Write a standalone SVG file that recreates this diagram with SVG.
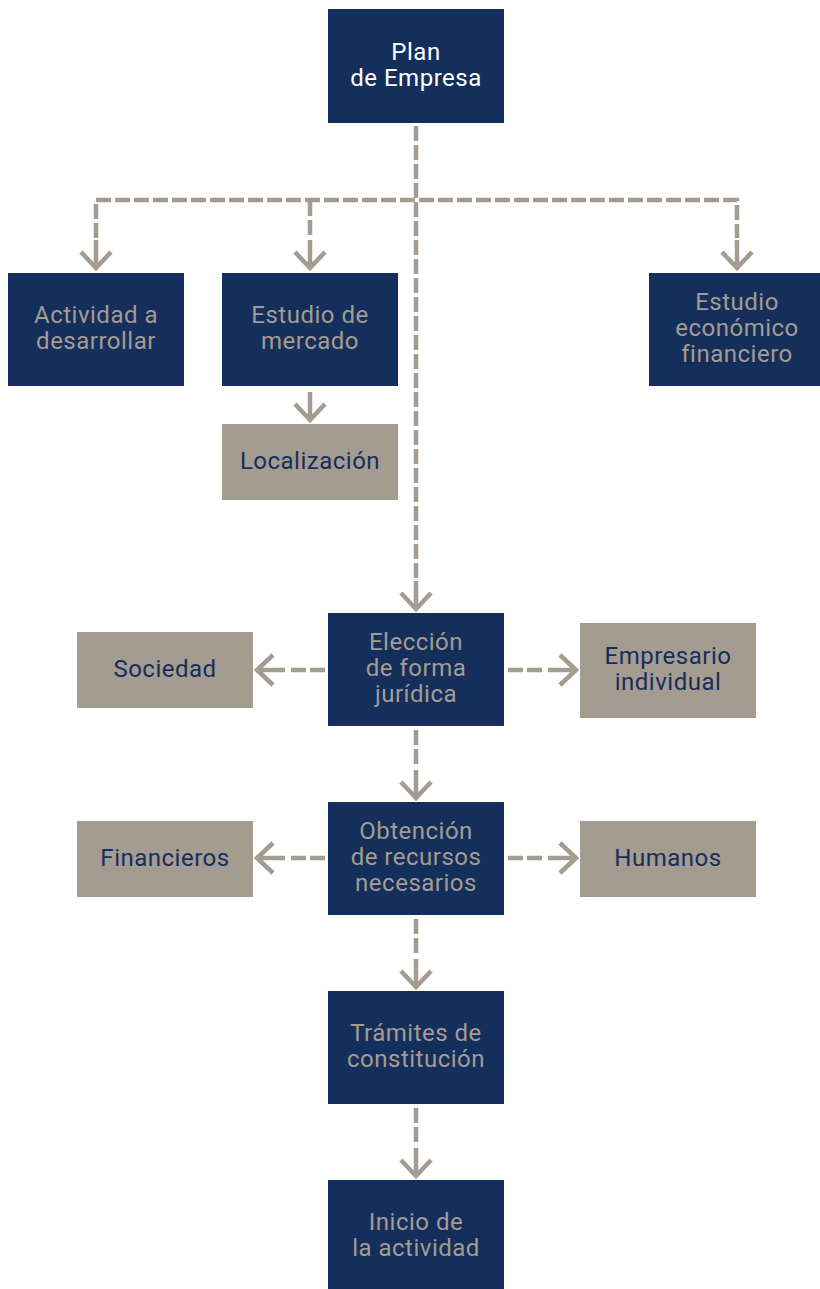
<svg xmlns="http://www.w3.org/2000/svg" xmlns:xlink="http://www.w3.org/1999/xlink" width="820" height="1289" viewBox="0 0 820 1289">
<style>
.navy{fill:#152f5d}
.tan{fill:#a49b91}
text{font-family:Roboto,"Liberation Sans",sans-serif;font-size:24px;letter-spacing:0.5px;text-anchor:middle}
.tl{fill:#a49b91}
.tw{fill:#ffffff}
.tn{fill:#152f5d}
.dash{fill:none;stroke:#a49b91;stroke-width:4.5;stroke-dasharray:15 4}
.ah{fill:none;stroke:#a49b91;stroke-width:4.5;stroke-linejoin:miter}
</style>
<defs>
<g id="arr"><path class="ah" d="M0,-31 V-3 M-15,-19 L0,-3 L15,-19"/></g>
</defs>
<rect width="820" height="1289" fill="#ffffff"/>
<g id="connectors">
<path class="dash" d="M416,126 V579"/>
<use xlink:href="#arr" transform="translate(416,612)"/>
<path class="dash" d="M96,238 V200 H737 V238"/>
<path class="dash" d="M310,201 V238"/>
<use xlink:href="#arr" transform="translate(96,271)"/>
<use xlink:href="#arr" transform="translate(310,271)"/>
<use xlink:href="#arr" transform="translate(737,271)"/>
<use xlink:href="#arr" transform="translate(310,423)"/>
<path class="dash" d="M325,670 H288"/>
<use xlink:href="#arr" transform="translate(254,670) rotate(90)"/>
<path class="dash" d="M508,670 H546"/>
<use xlink:href="#arr" transform="translate(579,670) rotate(-90)"/>
<path class="dash" d="M416,730 V768"/>
<use xlink:href="#arr" transform="translate(416,801)"/>
<path class="dash" d="M325,858 H288"/>
<use xlink:href="#arr" transform="translate(254,858) rotate(90)"/>
<path class="dash" d="M508,858 H546"/>
<use xlink:href="#arr" transform="translate(579,858) rotate(-90)"/>
<path class="dash" d="M416,919 V957"/>
<use xlink:href="#arr" transform="translate(416,990)"/>
<path class="dash" d="M416,1108 V1146"/>
<use xlink:href="#arr" transform="translate(416,1179)"/>
</g>
<g id="plan"><rect class="navy" x="328" y="9" width="176" height="114"/><text class="tw" x="416" y="59.5">Plan</text><text class="tw" x="416" y="85.5">de Empresa</text></g>
<g id="actividad"><rect class="navy" x="8" y="273" width="176" height="113"/><text class="tl" x="96" y="323">Actividad a</text><text class="tl" x="96" y="349">desarrollar</text></g>
<g id="mercado"><rect class="navy" x="222" y="273" width="176" height="113"/><text class="tl" x="310" y="323">Estudio de</text><text class="tl" x="310" y="349">mercado</text></g>
<g id="economico"><rect class="navy" x="649" y="273" width="176" height="113"/><text class="tl" x="737" y="310">Estudio</text><text class="tl" x="737" y="336">económico</text><text class="tl" x="737" y="362">financiero</text></g>
<g id="localizacion"><rect class="tan" x="222" y="424" width="176" height="76"/><text class="tn" x="310" y="468.5">Localización</text></g>
<g id="eleccion"><rect class="navy" x="328" y="613" width="176" height="113"/><text class="tl" x="416" y="650">Elección</text><text class="tl" x="416" y="676">de forma</text><text class="tl" x="416" y="702">jurídica</text></g>
<g id="sociedad"><rect class="tan" x="77" y="632" width="176" height="76"/><text class="tn" x="165" y="676.5">Sociedad</text></g>
<g id="empresario"><rect class="tan" x="580" y="623" width="176" height="95"/><text class="tn" x="668" y="664">Empresario</text><text class="tn" x="668" y="690">individual</text></g>
<g id="obtencion"><rect class="navy" x="328" y="802" width="176" height="113"/><text class="tl" x="416" y="839">Obtención</text><text class="tl" x="416" y="865">de recursos</text><text class="tl" x="416" y="891">necesarios</text></g>
<g id="financieros"><rect class="tan" x="77" y="821" width="176" height="76"/><text class="tn" x="165" y="865.5">Financieros</text></g>
<g id="humanos"><rect class="tan" x="580" y="821" width="176" height="76"/><text class="tn" x="668" y="865.5">Humanos</text></g>
<g id="tramites"><rect class="navy" x="328" y="991" width="176" height="113"/><text class="tl" x="416" y="1041">Trámites de</text><text class="tl" x="416" y="1067">constitución</text></g>
<g id="inicio"><rect class="navy" x="328" y="1180" width="176" height="113"/><text class="tl" x="416" y="1230">Inicio de</text><text class="tl" x="416" y="1256">la actividad</text></g>
</svg>
